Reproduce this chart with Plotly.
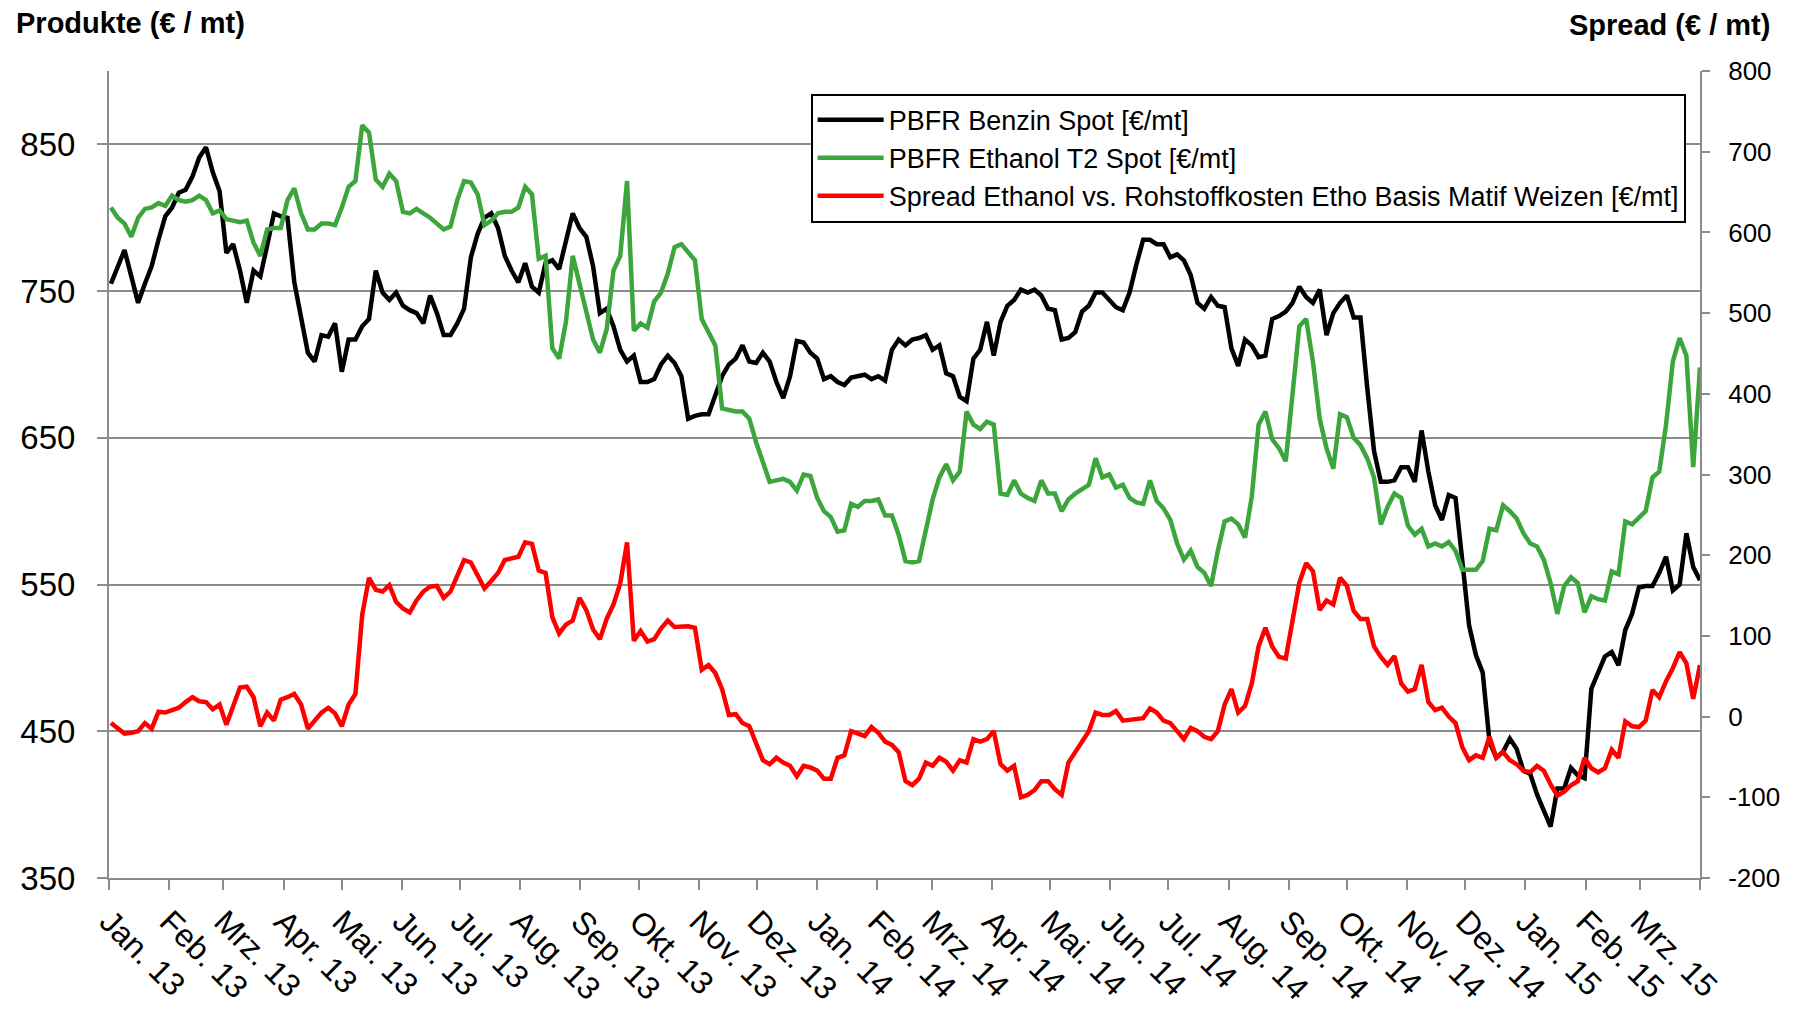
import plotly.graph_objects as go
import pandas as pd

# half-weekly observation dates (every 3.5 days)
dates = pd.date_range("2013-01-02", periods=235, freq="84h")

benzin = [755, 767, 778, 760, 742, 755, 767, 785, 801, 807,
          817, 819, 828, 841, 848, 831, 818, 776, 782, 764,
          742, 764, 760, 781, 803, 801, 800, 756, 731, 708,
          702, 720, 719, 728, 695, 717, 717, 726, 731, 764,
          749, 744, 749, 740, 737, 735, 728, 747, 735, 720,
          720, 728, 738, 773, 789, 800, 803, 793, 774, 764,
          756, 769, 753, 749, 769, 771, 765, 785, 803, 793,
          787, 767, 735, 738, 726, 710, 702, 706, 688, 688,
          690, 700, 706, 701, 692, 663, 665, 666, 666, 679,
          692, 700, 704, 713, 702, 701, 708, 702, 688, 677,
          692, 716, 715, 708, 704, 690, 692, 688, 686, 691,
          692, 693, 690, 692, 689, 710, 717, 713, 717, 718,
          720, 710, 713, 694, 692, 678, 675, 704, 710, 729,
          706, 729, 740, 744, 751, 749, 751, 747, 738, 737,
          717, 718, 722, 736, 740, 749, 749, 744, 739, 737,
          749, 768, 785, 785, 782, 782, 773, 775, 771, 761,
          742, 738, 746, 740, 739, 711, 699, 717, 713, 705,
          706, 731, 733, 736, 742, 753, 746, 742, 751, 720,
          735, 742, 747, 732, 732, 684, 641, 620, 620, 621,
          630, 630, 620, 655, 627, 604, 594, 611, 609, 566,
          522, 502, 490, 443, 432, 436, 445, 438, 423, 421,
          407, 396, 385, 411, 411, 425, 420, 418, 479, 490,
          501, 504, 495, 519, 530, 548, 549, 549, 558, 569,
          546, 550, 585, 562, 553]

ethanol = [807, 800, 796, 787, 800, 806, 807, 810, 808, 815,
           812, 811, 812, 815, 812, 803, 805, 799, 798, 797,
           798, 783, 774, 792, 793, 793, 812, 820, 803, 792,
           792, 796, 796, 795, 807, 821, 825, 863, 858, 826,
           821, 830, 825, 804, 803, 806, 803, 800, 796, 792,
           794, 812, 825, 824, 816, 795, 798, 803, 804, 804,
           807, 821, 816, 772, 774, 711, 704, 729, 774, 756,
           738, 717, 708, 724, 764, 774, 825, 723, 728, 725,
           743, 749, 762, 780, 782, 777, 771, 731, 722, 713,
           670, 669, 668, 668, 663, 647, 634, 620, 621, 622,
           620, 614, 625, 624, 609, 600, 596, 586, 587, 605,
           603, 607, 607, 608, 597, 597, 584, 566, 565, 566,
           587, 608, 623, 632, 621, 627, 668, 659, 656, 661,
           659, 612, 611, 621, 612, 609, 607, 621, 612, 612,
           600, 608, 612, 615, 618, 636, 623, 625, 616, 618,
           609, 606, 605, 621, 607, 602, 594, 578, 567, 573,
           562, 558, 549, 573, 593, 595, 591, 582, 610, 659,
           668, 649, 643, 634, 677, 726, 731, 702, 663, 643,
           629, 666, 664, 650, 645, 636, 623, 591, 603, 612,
           609, 590, 584, 588, 576, 578, 576, 579, 573, 560,
           560, 560, 566, 588, 587, 604, 600, 595, 585, 578,
           576, 567, 551, 530, 549, 555, 551, 531, 542, 540,
           539, 559, 557, 593, 591, 595, 600, 623, 627, 659,
           702, 718, 706, 630, 698]

spread = [-8, -15, -21, -20, -18, -8, -15, 6, 5, 8,
          11, 18, 24, 19, 18, 9, 15, -10, 15, 36,
          37, 24, -12, 5, -5, 21, 24, 28, 15, -15,
          -5, 5, 11, 4, -12, 15, 28, 126, 172, 157,
          155, 163, 142, 134, 129, 144, 155, 161, 162, 147,
          155, 173, 194, 191, 175, 159, 168, 178, 194, 196,
          198, 216, 214, 181, 178, 123, 103, 114, 119, 147,
          132, 108, 96, 121, 139, 165, 216, 94, 106, 93,
          96, 109, 119, 111, 111, 112, 110, 58, 64, 54,
          34, 2, 3, -8, -12, -33, -54, -59, -51, -57,
          -61, -74, -61, -63, -67, -77, -77, -51, -48, -18,
          -21, -24, -13, -20, -31, -35, -44, -80, -85, -77,
          -57, -61, -51, -56, -67, -54, -57, -28, -31, -28,
          -18, -59, -67, -61, -100, -97, -91, -80, -80, -90,
          -97, -57, -44, -30, -18, 5, 2, 2, 7, -5,
          -4, -2, -2, 10, 5, -5, -8, -18, -28, -14,
          -18, -25, -28, -18, 15, 34, 5, 13, 41, 87,
          110, 87, 74, 72, 119, 166, 190, 180, 132, 144,
          139, 172, 162, 131, 121, 121, 87, 74, 64, 75,
          41, 31, 34, 64, 18, 8, 11, 0, -8, -38,
          -54, -48, -51, -25, -51, -44, -54, -59, -67, -69,
          -61, -67, -84, -98, -93, -85, -80, -51, -64, -69,
          -64, -41, -51, -6, -12, -13, -5, 33, 24, 44,
          60, 80, 66, 22, 64]

assert len(benzin) == len(ethanol) == len(spread) == len(dates), (len(benzin), len(ethanol), len(spread))

month_ticks = pd.date_range("2013-01-01", "2015-04-01", freq="MS")
month_names = ["Jan.", "Feb.", "Mrz.", "Apr.", "Mai.", "Jun.",
               "Jul.", "Aug.", "Sep.", "Okt.", "Nov.", "Dez."]
tick_text = [f"{month_names[d.month - 1]} {d.year % 100:02d}" for d in month_ticks[:-1]] + [""]

spread_ticks = [-200, -100, 0, 100, 200, 300, 400, 500, 600, 700, 800]
spread_tick_text = [str(v) for v in spread_ticks]

FONT = "Liberation Sans, Arial, sans-serif"
GRAY = "#8c8c8c"
LW = 4.5

fig = go.Figure()
fig.add_trace(go.Scatter(x=dates, y=benzin, name="PBFR Benzin Spot [€/mt]",
                         mode="lines", line=dict(color="#000000", width=LW)))
fig.add_trace(go.Scatter(x=dates, y=ethanol, name="PBFR Ethanol T2 Spot [€/mt]",
                         mode="lines", line=dict(color="#3ca53c", width=LW)))
fig.add_trace(go.Scatter(x=dates, y=spread,
                         name="Spread Ethanol vs. Rohstoffkosten Etho Basis Matif Weizen [€/mt]",
                         mode="lines", line=dict(color="#ff0000", width=LW), yaxis="y2"))

fig.update_layout(
    width=1793, height=1011,
    margin=dict(l=96, r=101, t=63, b=139),
    paper_bgcolor="white", plot_bgcolor="white",
    font=dict(family=FONT, color="black"),
    showlegend=True,
    legend=dict(x=0.441, y=0.972, xanchor="left", yanchor="top",
                bgcolor="white", bordercolor="black", borderwidth=2,
                font=dict(size=27, family=FONT), itemwidth=66,
                tracegroupgap=0),
    xaxis=dict(type="date", range=["2013-01-01", "2015-04-01"],
               tickmode="array", tickvals=month_ticks, ticktext=tick_text,
               tickangle=45, ticks="outside", ticklen=10, tickwidth=1.5, tickcolor=GRAY,
               showline=True, linecolor=GRAY, linewidth=2, showgrid=False, zeroline=False,
               tickfont=dict(size=32, family=FONT)),
    yaxis=dict(range=[350, 900], tick0=350, dtick=100, tickmode="linear",
               showgrid=True, gridcolor=GRAY, gridwidth=1.5,
               showline=True, linecolor=GRAY, linewidth=2,
               ticks="outside", ticklen=10, tickwidth=1.5, tickcolor=GRAY,
               zeroline=False, tickfont=dict(size=33, family=FONT),
               ticklabelstandoff=15),
    yaxis2=dict(range=[-200, 800], tickmode="array",
                tickvals=spread_ticks, ticktext=spread_tick_text,
                overlaying="y", side="right", showgrid=False,
                showline=True, linecolor=GRAY, linewidth=2,
                ticks="outside", ticklen=8, tickwidth=1.5, tickcolor=GRAY,
                zeroline=False, tickfont=dict(size=26, family=FONT),
                ticklabelstandoff=13),
    annotations=[
        dict(text="<b>Produkte (€ / mt)</b>", xref="paper", yref="paper",
             x=-0.0598, y=1.059, xanchor="left", yanchor="middle", showarrow=False,
             font=dict(size=29, family=FONT, color="black")),
        dict(text="<b>Spread (€ / mt)</b>", xref="paper", yref="paper",
             x=1.0453, y=1.0574, xanchor="right", yanchor="middle", showarrow=False,
             font=dict(size=29, family=FONT, color="black")),
    ],
)

fig.write_html("out.html")
